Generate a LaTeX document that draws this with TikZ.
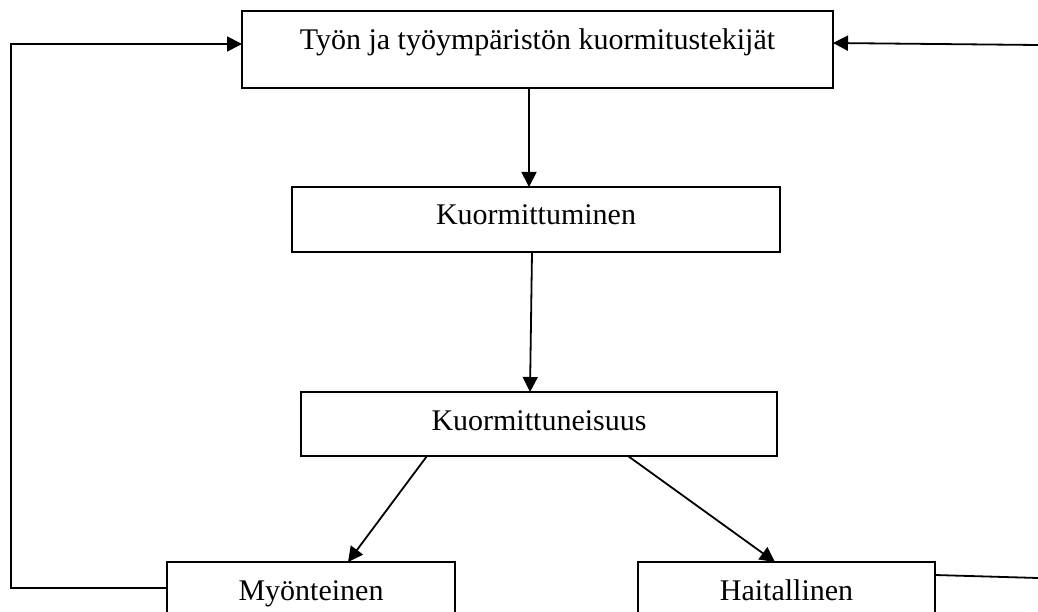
\documentclass[tikz,border=0pt]{standalone}
\usepackage{fontspec}
\setmainfont{Liberation Serif}
\usetikzlibrary{arrows.meta}
\tikzset{
  box/.style={draw, line width=2pt, inner xsep=0pt, inner ysep=0pt, outer sep=0pt, anchor=base,
    font=\fontsize{30}{36}\selectfont},
  conn/.style={line width=1.8pt},
  arr/.style={conn, -{Triangle[length=15pt,width=15pt]}}
}
\begin{document}
\begin{tikzpicture}[x=1pt,y=1pt]
\path[use as bounding box, clip] (0,0) rectangle (1038,611);
\node[box, minimum width=591pt, text height=39pt, text depth=38pt] (T) at (537.5,561) {Työn ja työympäristön kuormitustekijät};
\node[box, minimum width=488pt, text height=38pt, text depth=27pt] (K1) at (536,386) {Kuormittuminen};
\node[box, minimum width=476pt, text height=38pt, text depth=26pt] (K2) at (539,181) {Kuormittuneisuus};
\node[box, minimum width=288pt, text height=38pt, text depth=14pt] (M) at (311,11) {Myönteinen};
\node[box, minimum width=297pt, text height=38pt, text depth=14pt] (H) at (786.5,11) {Haitallinen};
\coordinate (L) at (11,300);
\coordinate (R1) at (1038,566);
\coordinate (R2) at (1038,33);
\draw[arr] ([xshift=-8.5pt]T.south) -- ([xshift=-7pt]K1.north);
\draw[arr] ([xshift=-4pt]K1.south) -- ([xshift=-9pt]K2.north);
\draw[arr] ([xshift=-112pt]K2.south) -- ([xshift=37pt]M.north);
\draw[arr] ([xshift=89pt]K2.south) -- ([xshift=-11.5pt]H.north);
\draw[arr] (M.west) -| (L) |- ([yshift=5.5pt]T.west);
\draw[arr] (R1) -- ([yshift=6.5pt]T.east);
\draw[conn] ([yshift=13pt]H.east) -- (R2);
\end{tikzpicture}
\end{document}
